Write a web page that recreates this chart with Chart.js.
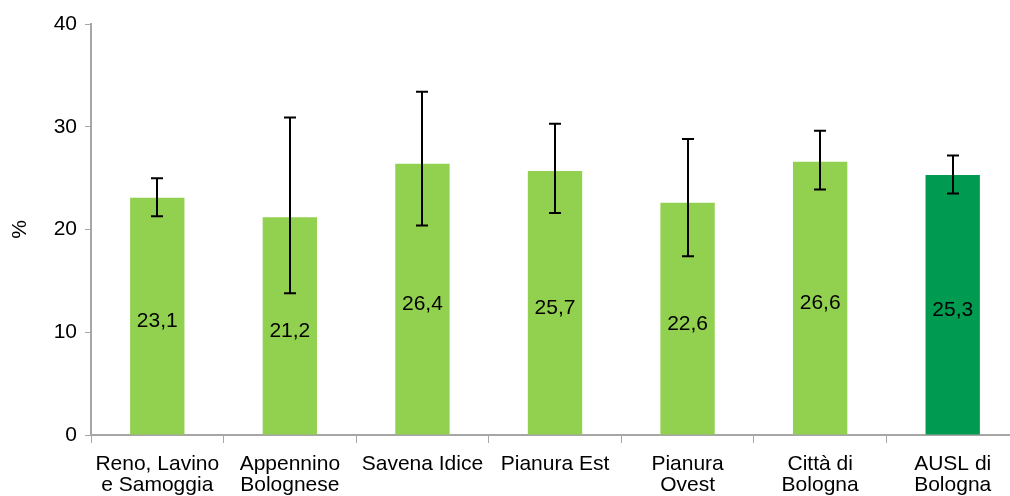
<!DOCTYPE html>
<html>
<head>
<meta charset="utf-8">
<script src="https://cdn.jsdelivr.net/npm/chart.js@4"></script>
<style>
  html, body { margin: 0; padding: 0; background: #fff; overflow: hidden; }
  #wrap { width: 1019px; height: 496px; position: relative; }
</style>
</head>
<body>
<div id="wrap"><canvas id="chart"></canvas></div>
<script>
const categories = [
  ['Reno, Lavino', 'e Samoggia'],
  ['Appennino', 'Bolognese'],
  'Savena Idice',
  'Pianura Est',
  ['Pianura', 'Ovest'],
  ['Città di', 'Bologna'],
  ['AUSL di', 'Bologna']
];
const values = [23.1, 21.2, 26.4, 25.7, 22.6, 26.6, 25.3];
const lowerCI = [21.3, 13.8, 20.4, 21.6, 17.4, 23.9, 23.5];
const upperCI = [25.0, 30.9, 33.4, 30.3, 28.8, 29.6, 27.2];
const barColors = ['#92D050', '#92D050', '#92D050', '#92D050', '#92D050', '#92D050', '#009A50'];
const yTicks = [0, 10, 20, 30, 40];

const FONT = '"Liberation Sans", Arial, sans-serif';
const axisColor = '#A6A6A6';

// error bars + value labels drawn with the chart scales
const extras = {
  id: 'extras',
  afterDatasetsDraw(chart) {
    const { ctx, scales: { x, y } } = chart;
    ctx.save();
    ctx.strokeStyle = '#000';
    ctx.lineWidth = 2;
    values.forEach((v, i) => {
      const cx = Math.round(x.getPixelForValue(i));
      const top = y.getPixelForValue(upperCI[i]);
      const bot = y.getPixelForValue(lowerCI[i]);
      ctx.beginPath();
      ctx.moveTo(cx, top); ctx.lineTo(cx, bot);
      ctx.moveTo(cx - 6, top); ctx.lineTo(cx + 6, top);
      ctx.moveTo(cx - 6, bot); ctx.lineTo(cx + 6, bot);
      ctx.stroke();
    });
    ctx.fillStyle = '#000';
    ctx.font = '21px ' + FONT;
    ctx.textAlign = 'center';
    ctx.textBaseline = 'middle';
    values.forEach((v, i) => {
      const cx = x.getPixelForValue(i);
      const cy = y.getPixelForValue(v / 2) + 5;
      ctx.fillText(v.toFixed(1).replace('.', ','), cx, cy);
    });
    ctx.restore();
  }
};

new Chart(document.getElementById('chart'), {
  type: 'bar',
  data: {
    labels: categories,
    datasets: [{
      data: values,
      backgroundColor: barColors,
      barPercentage: 0.41,
      categoryPercentage: 1
    }]
  },
  options: {
    responsive: true,
    maintainAspectRatio: false,
    animation: false,
    layout: { padding: { top: 24, right: 0, bottom: 0, left: 0 } },
    plugins: { legend: { display: false }, tooltip: { enabled: false } },
    scales: {
      x: {
        grid: { display: true, drawOnChartArea: false, drawTicks: true, tickLength: 8, color: axisColor, offset: true },
        border: { display: true, color: axisColor, width: 2 },
        ticks: { color: '#000', font: { family: FONT, size: 21, lineHeight: 1.0 }, padding: 11, maxRotation: 0, autoSkip: false },
        afterFit(scale) { scale.height = 61; }
      },
      y: {
        min: 0,
        max: 40,
        afterBuildTicks(scale) { scale.ticks = yTicks.map(v => ({ value: v })); },
        grid: { display: true, drawOnChartArea: false, drawTicks: true, tickLength: 6, color: axisColor },
        border: { display: true, color: axisColor, width: 2 },
        ticks: { color: '#000', font: { family: FONT, size: 21 }, padding: 8 },
        title: { display: true, text: '%', color: '#000', font: { family: FONT, size: 21 }, padding: { top: 8, bottom: 0 } },
        afterFit(scale) { scale.width = 91; }
      }
    }
  },
  plugins: [extras]
});
</script>
</body>
</html>
